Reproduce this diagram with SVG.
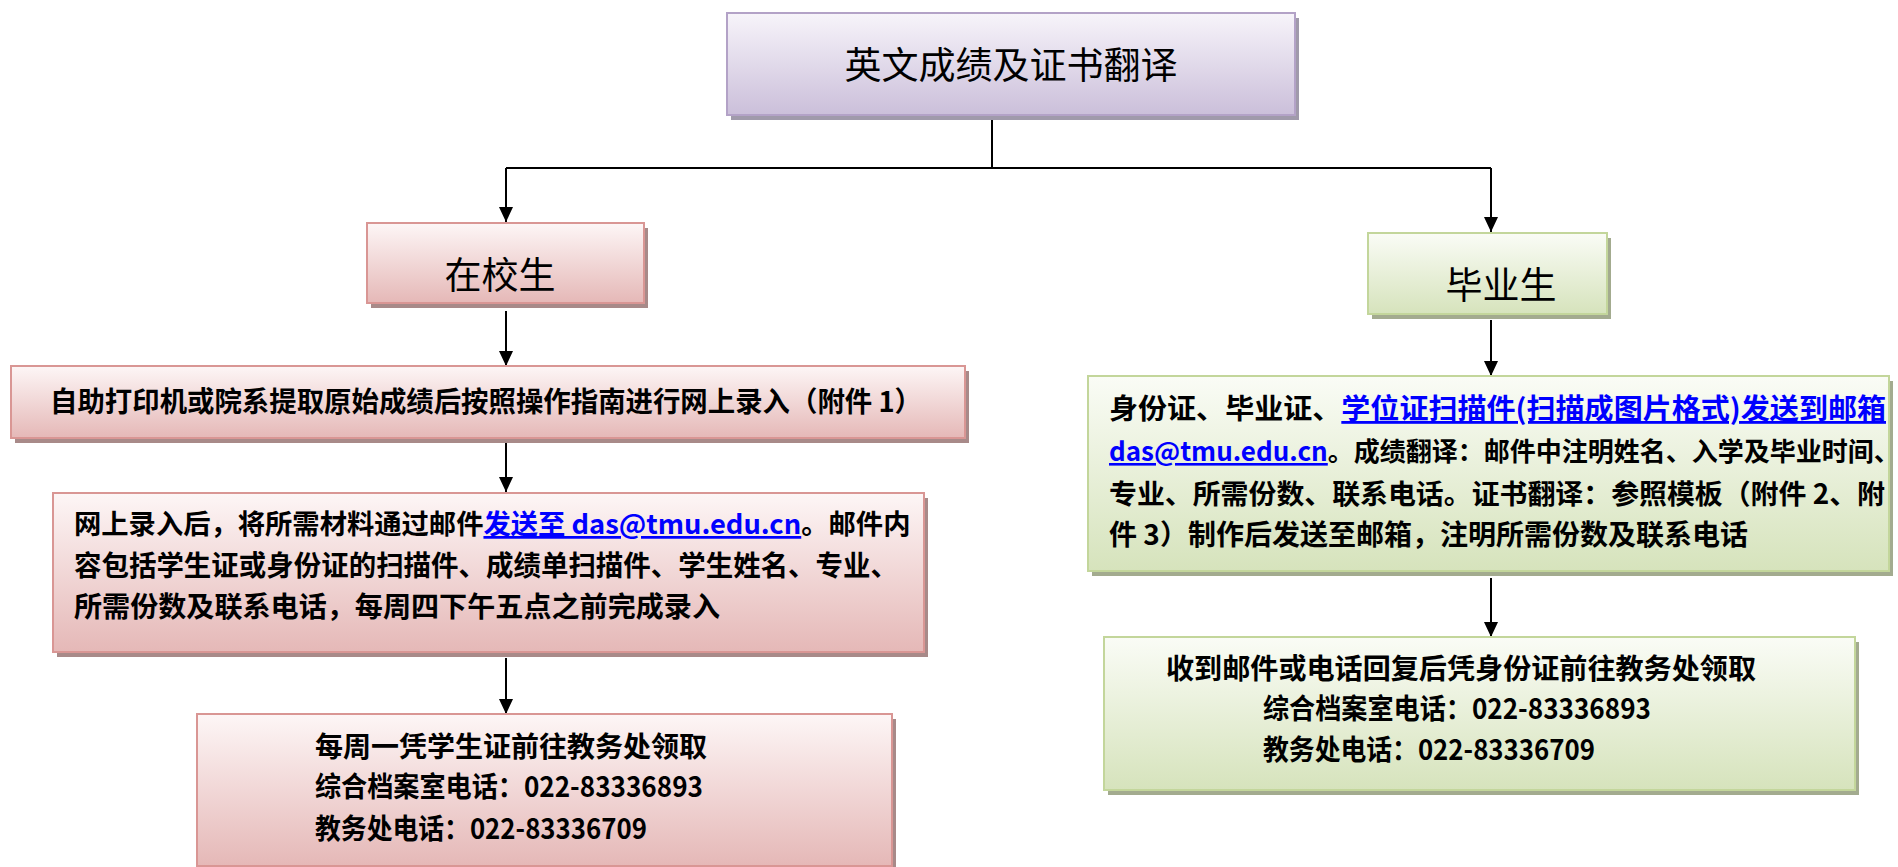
<svg xmlns="http://www.w3.org/2000/svg" width="1898" height="867" viewBox="0 0 1898 867">
<defs>
<linearGradient id="gPurple" x1="0" y1="0" x2="0" y2="1"><stop offset="0" stop-color="#F7F4FA"/><stop offset="1" stop-color="#CBBFDA"/></linearGradient>
<linearGradient id="gPink" x1="0" y1="0" x2="0" y2="1"><stop offset="0" stop-color="#FDF6F6"/><stop offset="1" stop-color="#E5B8B7"/></linearGradient>
<linearGradient id="gGreen" x1="0" y1="0" x2="0" y2="1"><stop offset="0" stop-color="#FAFCF6"/><stop offset="1" stop-color="#D6E3BC"/></linearGradient>
<marker id="arr" markerUnits="userSpaceOnUse" markerWidth="15" markerHeight="14" refX="15" refY="7" orient="auto"><path d="M0,0 L15,7 L0,14 z" fill="#000"/></marker>
</defs>
<style>
.sp{fill:#A88A89}.sg{fill:#A3AB8F}.su{fill:#A09AAB}
.bp{fill:url(#gPink);stroke:#D99694;stroke-width:2}
.bg{fill:url(#gGreen);stroke:#C3D69B;stroke-width:2}
.bu{fill:url(#gPurple);stroke:#B3A2C7;stroke-width:2}
.t{font-family:"Noto Sans CJK SC","Liberation Sans",sans-serif;fill:#000}
.h{font-size:37px;font-weight:400;text-anchor:middle}
.b{font-size:28px;font-weight:700}
.lk{fill:#0000FF;text-decoration:underline}
.c{stroke:#000;stroke-width:2;fill:none}
</style>
<rect width="1898" height="867" fill="#FFFFFF"/>
<g id="connectors">
<path class="c" d="M992,117 V168"/>
<path class="c" d="M506,168 H1491"/>
<path class="c" d="M506,168 V222" marker-end="url(#arr)"/>
<path class="c" d="M1491,168 V232" marker-end="url(#arr)"/>
<path class="c" d="M506,311 V366" marker-end="url(#arr)"/>
<path class="c" d="M506,440 V492" marker-end="url(#arr)"/>
<path class="c" d="M506,658 V714" marker-end="url(#arr)"/>
<path class="c" d="M1491,320 V376" marker-end="url(#arr)"/>
<path class="c" d="M1491,578 V637" marker-end="url(#arr)"/>
</g>
<g id="title">
<rect class="su" x="731" y="18" width="568" height="102"/>
<rect class="bu" x="727" y="13" width="568" height="102"/>
<text class="t h" x="1011" y="79">英文成绩及证书翻译</text>
</g>
<g id="current">
<rect class="sp" x="371" y="228" width="277" height="80"/>
<rect class="bp" x="367" y="223" width="277" height="80"/>
<text class="t h" x="500" y="289">在校生</text>
</g>
<g id="graduate">
<rect class="sg" x="1372" y="238" width="239" height="81"/>
<rect class="bg" x="1368" y="233" width="239" height="81"/>
<text class="t h" x="1501" y="299">毕业生</text>
</g>
<g id="step1">
<rect class="sp" x="15" y="371" width="954" height="72"/>
<rect class="bp" x="11" y="366" width="954" height="72"/>
<text class="t b" x="50" y="412" textLength="872" lengthAdjust="spacingAndGlyphs">自助打印机或院系提取原始成绩后按照操作指南进行网上录入（附件 1）</text>
</g>
<g id="step2">
<rect class="sp" x="57" y="498" width="871" height="159"/>
<rect class="bp" x="53" y="493" width="871" height="159"/>
<text class="t b" x="74" y="534" style="font-size:27.3px">网上录入后，将所需材料通过邮件<tspan class="lk">发送至 das@tmu.edu.cn</tspan>。邮件内</text>
<text class="t b" x="74" y="576" textLength="824" lengthAdjust="spacingAndGlyphs">容包括学生证或身份证的扫描件、成绩单扫描件、学生姓名、专业、</text>
<text class="t b" x="74" y="617" textLength="646" lengthAdjust="spacingAndGlyphs">所需份数及联系电话，每周四下午五点之前完成录入</text>
</g>
<g id="step3">
<rect class="sp" x="201" y="719" width="695" height="152"/>
<rect class="bp" x="197" y="714" width="695" height="152"/>
<text class="t b" x="315" y="757" textLength="392" lengthAdjust="spacingAndGlyphs">每周一凭学生证前往教务处领取</text>
<text class="t b" x="315" y="797" textLength="388" lengthAdjust="spacingAndGlyphs">综合档案室电话：022-83336893</text>
<text class="t b" x="315" y="839" textLength="332" lengthAdjust="spacingAndGlyphs">教务处电话：022-83336709</text>
</g>
<g id="gstep1">
<rect class="sg" x="1092" y="381" width="801" height="195"/>
<rect class="bg" x="1088" y="376" width="801" height="195"/>
<text class="t b" x="1109" y="419" textLength="777" lengthAdjust="spacingAndGlyphs">身份证、毕业证、<tspan class="lk">学位证扫描件(扫描成图片格式)发送到邮箱</tspan></text>
<text class="t b" x="1109" y="461" style="font-size:26px"><tspan class="lk">das@tmu.edu.cn</tspan>。成绩翻译：邮件中注明姓名、入学及毕业时间、</text>
<text class="t b" x="1109" y="504" style="font-size:27.5px" textLength="776" lengthAdjust="spacingAndGlyphs">专业、所需份数、联系电话。证书翻译：参照模板（附件 2、附</text>
<text class="t b" x="1109" y="545" textLength="639" lengthAdjust="spacingAndGlyphs">件 3）制作后发送至邮箱，注明所需份数及联系电话</text>
</g>
<g id="gstep2">
<rect class="sg" x="1108" y="642" width="751" height="153"/>
<rect class="bg" x="1104" y="637" width="751" height="153"/>
<text class="t b" x="1166" y="679" textLength="590" lengthAdjust="spacingAndGlyphs">收到邮件或电话回复后凭身份证前往教务处领取</text>
<text class="t b" x="1263" y="719" textLength="388" lengthAdjust="spacingAndGlyphs">综合档案室电话：022-83336893</text>
<text class="t b" x="1263" y="760" textLength="332" lengthAdjust="spacingAndGlyphs">教务处电话：022-83336709</text>
</g>
</svg>
